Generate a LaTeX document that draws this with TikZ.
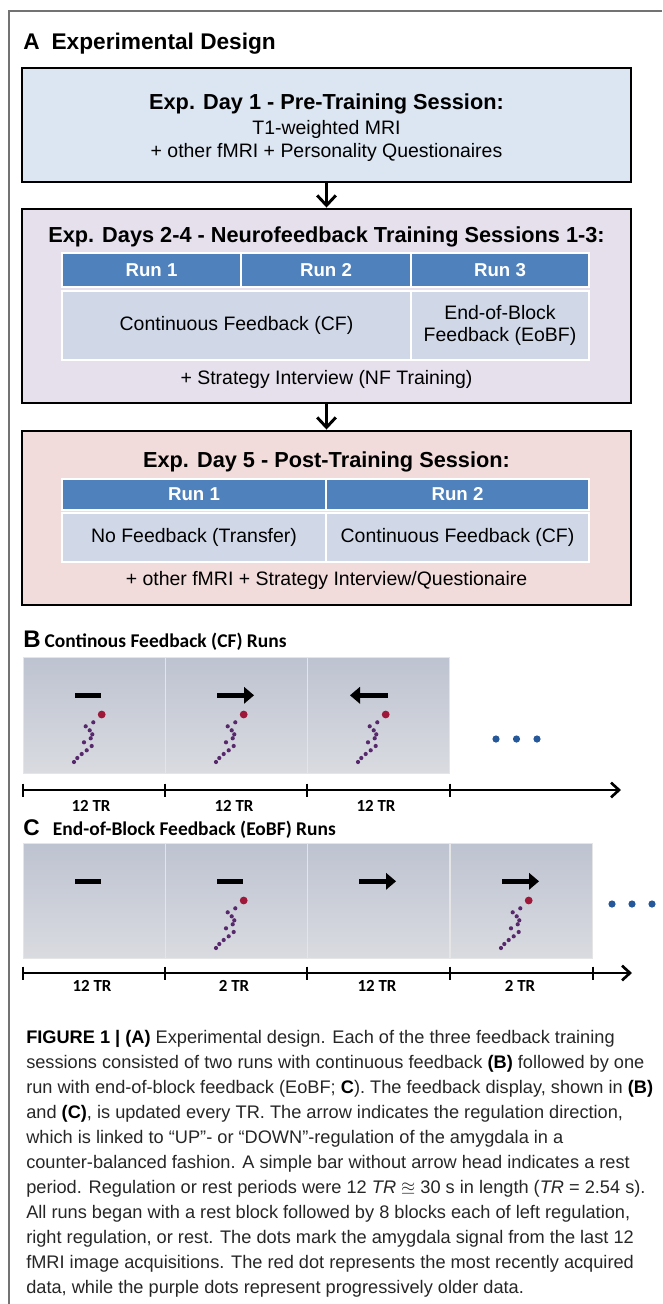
\documentclass[tikz,border=0pt]{standalone}
\usepackage{amsmath,amssymb}
\usepackage{fontspec}
\setmainfont{Liberation Sans}
\newfontfamily\calfont{Carlito}
\usetikzlibrary{arrows.meta,calc,positioning}

\definecolor{dayone}{RGB}{220,230,242}
\definecolor{daytrain}{RGB}{229,224,236}
\definecolor{daypost}{RGB}{242,220,219}
\definecolor{runhead}{RGB}{79,129,189}
\definecolor{runcell}{RGB}{208,216,232}
\definecolor{screentop}{RGB}{190,195,209}
\definecolor{screenmid}{RGB}{210,213,221}
\definecolor{screenbot}{RGB}{217,219,224}
\definecolor{sigred}{RGB}{158,24,58}
\definecolor{sigpurple}{RGB}{88,40,108}
\definecolor{moredots}{RGB}{36,88,155}

\tikzset{
  % feedback screen contents, drawn from the screen's top left corner
  pics/restbar/.style={code={\fill (51.5,36.3) rectangle (78,40.5);}},
  pics/rightcue/.style={code={
    \fill (52,35.8) rectangle (80,40.8);
    \fill (79,29.8) -- (89,38.3) -- (79,46.8) -- cycle;}},
  pics/leftcue/.style={code={
    \fill (52,35.8) rectangle (81,40.8);
    \fill (53,29.8) -- (43,38.3) -- (53,46.8) -- cycle;}},
  pics/signal/.style={code={
    \fill[sigpurple] foreach \p in {(70.3,65.3),(62.7,69.3),(66.7,73.3),(69.3,77.3),(67.7,81.3),
      (61,85.3),(68.7,89),(63.7,93.3),(58.7,97),(54.3,101),(51,105)}
      {\p circle (2.1)};
    \fill[sigred] (78.7,57.5) circle (3.9);}}
}

\begin{document}
\begin{tikzpicture}[x=0.75pt,y=-0.75pt,
  sessbox/.style={draw,line width=2.2pt,inner sep=0pt,minimum width=456.75pt},
  sesstitle/.style={font=\fontsize{16.3}{19}\selectfont\bfseries},
  sesstext/.style={font=\fontsize{14.6}{17.5}\selectfont},
  headcell/.style={fill=runhead,draw=white,line width=1.2pt,inner sep=0pt,
    text=white,font=\fontsize{14}{16}\selectfont\bfseries},
  bodycell/.style={fill=runcell,draw=white,line width=1.2pt,inner sep=0pt,
    align=center,font=\fontsize{14.6}{16.5}\selectfont},
  flow/.style={line width=2.2pt,-{Straight Barb[length=7.5pt,width=14pt]}},
  screen/.style={top color=screentop,middle color=screenmid,bottom color=screenbot,
    draw=black!10,line width=0.4pt,inner sep=0pt,minimum width=106.5pt,anchor=north west},
  timeline/.style={line width=2pt,-{Straight Barb[length=6pt,width=11pt]}},
  tick/.style={line width=1.1pt},
  trlabel/.style={font=\calfont\bfseries\fontsize{12.7}{15}\selectfont},
  panel/.style={anchor=base west,inner sep=0pt},
  capline/.style={anchor=base west,inner sep=0pt,text=black!85,
    font=\fontsize{13.65}{18.75}\selectfont}]

\useasboundingbox (0,0) rectangle (662,1304);
\draw[black!55,line width=1.1pt] (662,11) -- (9,11) -- (9,1304);

% ---- A: sessions ----
\node[panel,font=\fontsize{17}{20}\selectfont\bfseries] (headA) at (23,49)
  {A\hspace{9pt}Experimental Design};

\node[sessbox,fill=dayone,minimum height=85.5pt] (day1) at (326.5,125) {};
\node[sesstitle] (t1) at (326.5,104) {Exp. Day 1 - Pre-Training Session:};
\node[sesstext] (t1a) at (326.5,129) {T1-weighted MRI};
\node[sesstext] (t1b) at (326.5,152) {+ other fMRI + Personality Questionaires};

\node[sessbox,fill=daytrain,minimum height=145.5pt] (train) at (326.5,306) {};
\node[sesstitle] (t2) at (326.5,237) {Exp. Days 2-4 - Neurofeedback Training Sessions 1-3:};
\node[headcell,minimum width=134.25pt,minimum height=25.5pt] (r1) at (151.5,270) {Run 1};
\node[headcell,minimum width=127.5pt,minimum height=25.5pt] (r2) at (326,270) {Run 2};
\node[headcell,minimum width=133.5pt,minimum height=25.5pt] (r3) at (500,270) {Run 3};
\node[bodycell,minimum width=261.75pt,minimum height=51.75pt] (cf) at (236.5,325.5)
  {Continuous Feedback (CF)};
\node[bodycell,minimum width=133.5pt,minimum height=51.75pt] (eobf) at (500,325.5)
  {End-of-Block\\Feedback (EoBF)};
\node[sesstext] (t2b) at (326.5,379) {+ Strategy Interview (NF Training)};

\node[sessbox,fill=daypost,minimum height=130.5pt] (post) at (326.5,518) {};
\node[sesstitle] (t3) at (326.5,462) {Exp. Day 5 - Post-Training Session:};
\node[headcell,minimum width=198pt,minimum height=23.25pt] (p1) at (194,494.5) {Run 1};
\node[headcell,minimum width=197.25pt,minimum height=23.25pt] (p2) at (457.5,494.5) {Run 2};
\node[bodycell,minimum width=198pt,minimum height=36.75pt] (nofb) at (194,537.5)
  {No Feedback (Transfer)};
\node[bodycell,minimum width=197.25pt,minimum height=36.75pt] (cf2) at (457.5,537.5)
  {Continuous Feedback (CF)};
\node[sesstext] (t3b) at (326.5,580) {+ other fMRI + Strategy Interview/Questionaire};

\draw[flow] (day1.south) -- (train.north);
\draw[flow] (train.south) -- (post.north);

% ---- B: continuous feedback screens ----
\node[panel] (headB) at (23,647)
  {{\fontsize{18}{20}\selectfont\bfseries B}\hspace{3pt}{\calfont\bfseries\fontsize{14.6}{17}\selectfont Continous Feedback (CF) Runs}};
\foreach \nm/\xl in {b1/23,b2/165,b3/307}
  \node[screen,minimum height=87pt] (\nm) at (\xl,657) {};
\pic at (b1.north west) {restbar};
\pic at (b2.north west) {rightcue};
\pic at (b3.north west) {leftcue};
\foreach \nm in {b1,b2,b3}
  \pic at (\nm.north west) {signal};
\fill[moredots] (496,739) circle (3.6) (516.5,739) circle (3.6) (537,739) circle (3.6);

\coordinate (bstart) at (23,790);
\coordinate (bend) at (621,790);
\draw[timeline] (bstart) -- (bend);
\foreach \x in {23,165,307,450}
  \draw[tick] (\x,783.5) -- (\x,796.5);
\foreach \nm/\xl in {tb1/91,tb2/234,tb3/376}
  \node[trlabel] (\nm) at (\xl,806) {12 TR};

% ---- C: end-of-block feedback screens ----
\node[panel] (headC) at (23,835)
  {{\fontsize{17}{20}\selectfont\bfseries C}\hspace{10pt}{\calfont\bfseries\fontsize{14.6}{17}\selectfont End-of-Block Feedback (EoBF) Runs}};
\foreach \nm/\xl in {c1/23,c2/165,c3/307,c4/450}
  \node[screen,minimum height=86.25pt] (\nm) at (\xl,843) {};
\pic at (c1.north west) {restbar};
\pic at (c2.north west) {restbar};
\pic at (c3.north west) {rightcue};
\pic at (c4.north west) {rightcue};
\pic at (c2.north west) {signal};
\pic at (c4.north west) {signal};
\fill[moredots] (612,904) circle (3.6) (632,904) circle (3.6) (652,904) circle (3.6);

\coordinate (cstart) at (23,973);
\coordinate (cend) at (632,973);
\draw[timeline] (cstart) -- (cend);
\foreach \x in {23,165,307,450,593}
  \draw[tick] (\x,966.5) -- (\x,979.5);
\foreach \nm/\xl/\tr in {tc1/92/12 TR,tc2/234/2 TR,tc3/377/12 TR,tc4/520/2 TR}
  \node[trlabel] (\nm) at (\xl,986) {\tr};

% ---- caption ----
\foreach \ln [count=\i] in {
  {{\color{black}\bfseries FIGURE 1 | (A)} Experimental design. Each of the three feedback training},
  {sessions consisted of two runs with continuous feedback {\color{black}\bfseries (B)} followed by one},
  {run with end-of-block feedback (EoBF; {\color{black}\bfseries C}). The feedback display, shown in {\color{black}\bfseries (B)}},
  {and {\color{black}\bfseries (C)}, is updated every TR. The arrow indicates the regulation direction,},
  {which is linked to “UP”- or “DOWN”-regulation of the amygdala in a},
  {counter-balanced fashion. A simple bar without arrow head indicates a rest},
  {period. Regulation or rest periods were 12 \textit{TR} $\approxeq$ 30 s in length (\textit{TR} = 2.54 s).},
  {All runs began with a rest block followed by 8 blocks each of left regulation,},
  {right regulation, or rest. The dots mark the amygdala signal from the last 12},
  {fMRI image acquisitions. The red dot represents the most recently acquired},
  {data, while the purple dots represent progressively older data.}}
  \node[capline] (cap\i) at (26,{1043.5+25*(\i-1)}) {\ln};
\end{tikzpicture}
\end{document}
